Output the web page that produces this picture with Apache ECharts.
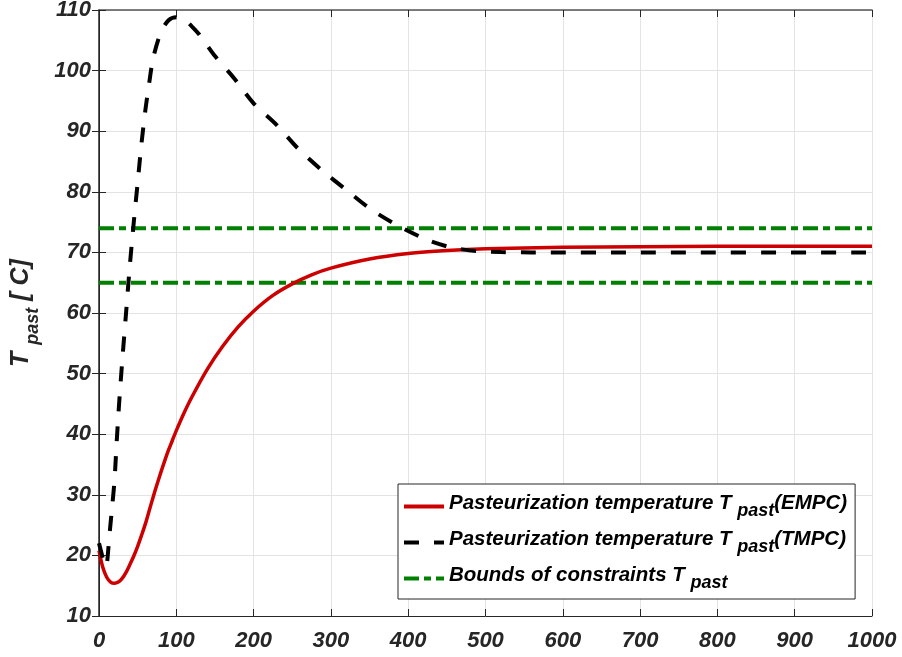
<!DOCTYPE html>
<html>
<head>
<meta charset="utf-8">
<script src="https://cdn.jsdelivr.net/npm/echarts@6/dist/echarts.min.js"></script>
<style>
  html, body { margin: 0; padding: 0; background: #fff; }
  #chart { width: 902px; height: 657px; }
</style>
</head>
<body>
<div id="chart"></div>
<script>
// Pasteurization temperature responses (time in s, temperature in °C)
const emTime = [0, 5, 10, 15, 20, 25, 30, 35, 40, 45, 50, 55, 60, 65, 70, 75, 80, 85, 90, 95, 100, 110, 120, 140, 160, 180, 200, 225, 250, 275, 300, 350, 400, 450, 500, 600, 700, 800, 1000];
const emTemp = [20.8, 18.0, 16.4, 15.6, 15.4, 15.6, 16.2, 17.2, 18.5, 19.9, 21.5, 23.3, 25.2, 27.4, 29.6, 31.7, 33.7, 35.6, 37.4, 39.0, 40.6, 43.5, 46.1, 50.7, 54.5, 57.7, 60.3, 62.9, 64.8, 66.3, 67.4, 68.9, 69.8, 70.3, 70.6, 70.85, 70.95, 71.0, 71.0];

const tmTime = [0, 4, 8, 10, 12, 14, 17, 20, 23, 26, 30, 35, 40, 45, 50, 55, 60, 65, 70, 80, 90, 100, 105, 110, 120, 130, 150, 175, 200, 230, 257, 288, 320, 352, 387, 424, 450, 465, 490, 520, 560, 700, 1000];
const tmTemp = [22.0, 20.0, 18.2, 18.5, 21.0, 24.0, 28.0, 32.3, 39.0, 45.0, 52.0, 60.0, 68.0, 75.0, 81.5, 88.0, 93.5, 98.0, 102.0, 106.3, 108.3, 108.8, 108.8, 108.5, 107.3, 105.9, 102.4, 98.7, 94.6, 91.0, 87.2, 83.6, 80.3, 77.1, 74.4, 72.1, 71.0, 70.6, 70.2, 70.05, 70.0, 70.0, 70.0];

// Constraint bounds
const boundsX = [0, 1000];
const boundUpper = 74;
const boundLower = 65;

// Axis ranges and ticks
const xTicks = [0, 100, 200, 300, 400, 500, 600, 700, 800, 900, 1000];
const yTicks = [10, 20, 30, 40, 50, 60, 70, 80, 90, 100, 110];

const FONT = '"Liberation Sans", Arial, Helvetica, sans-serif';
const AX = '#262626';

const pairs = (xs, ys) => xs.map((x, i) => [x, ys[i]]);
const boundsData = [
  [boundsX[0], boundUpper], [boundsX[1], boundUpper],
  [boundsX[1], '-'],
  [boundsX[0], boundLower], [boundsX[1], boundLower]
];

const tickLabel = {
  fontFamily: FONT, fontSize: 22, fontWeight: 'bold', fontStyle: 'italic', color: AX,
  formatter: (v) => String(v)
};

const chart = echarts.init(document.getElementById('chart'), null, { renderer: 'canvas' });

const legendRich = {
  a: { fontFamily: FONT, fontSize: 20.5, fontWeight: 'bold', fontStyle: 'italic', color: '#000', padding: [0, 0, 7, 0] },
  s: { fontFamily: FONT, fontSize: 18, fontWeight: 'bold', fontStyle: 'italic', color: '#000', padding: [9, 0, 0, 0] }
};

const legendNames = {
  'EMPC': '{a|Pasteurization temperature T }{s|past}{a|(EMPC)}',
  'TMPC': '{a|Pasteurization temperature T }{s|past}{a|(TMPC)}',
  'Bounds': '{a|Bounds of constraints T }{s|past}'
};

chart.setOption({
  animation: false,
  backgroundColor: '#fff',
  grid: { left: 99, right: 30, top: 10, bottom: 41, outerBoundsMode: 'none', containLabel: false },
  xAxis: [
    {
      type: 'value', min: xTicks[0], max: xTicks[xTicks.length - 1], interval: 100,
      axisLine: { lineStyle: { color: AX, width: 1 } },
      axisTick: { inside: true, length: 7, lineStyle: { color: AX } },
      axisLabel: Object.assign({ margin: 14 }, tickLabel),
      splitLine: { show: true, lineStyle: { color: '#e3e3e3', width: 1 } }
    },
    {
      type: 'value', position: 'top', min: xTicks[0], max: xTicks[xTicks.length - 1], interval: 100,
      axisLine: { show: true, lineStyle: { color: '#555', width: 1.5 } },
      axisTick: { show: true, inside: true, length: 7, lineStyle: { color: AX } },
      axisLabel: { show: false },
      splitLine: { show: false }
    }
  ],
  yAxis: [
    {
      type: 'value', min: yTicks[0], max: yTicks[yTicks.length - 1], interval: 10,
      axisLine: { show: true, lineStyle: { color: AX, width: 1 } },
      axisTick: { show: true, inside: true, length: 7, lineStyle: { color: AX } },
      axisLabel: Object.assign({ margin: 8 }, tickLabel),
      splitLine: { show: true, lineStyle: { color: '#e3e3e3', width: 1 } },
      name: '{t|T }{p|past}{t| [ C]}',
      nameLocation: 'middle',
      nameRotate: 90,
      nameGap: 55,
      nameTextStyle: {
        rich: {
          t: { fontFamily: FONT, fontSize: 25, fontWeight: 'bold', fontStyle: 'italic', color: AX, padding: [0, 0, 10, 0] },
          p: { fontFamily: FONT, fontSize: 18, fontWeight: 'bold', fontStyle: 'italic', color: AX, padding: [14, 0, 0, 0] }
        }
      }
    },
    {
      type: 'value', position: 'right', min: yTicks[0], max: yTicks[yTicks.length - 1], interval: 10,
      axisLine: { show: true, lineStyle: { color: AX, width: 1.5 } },
      axisTick: { show: true, inside: true, length: 7, lineStyle: { color: AX } },
      axisLabel: { show: false },
      splitLine: { show: false }
    }
  ],
  legend: {
    orient: 'vertical',
    left: 398, top: 484,
    padding: [9, 8, 7, 4],
    itemWidth: 40, itemHeight: 10, itemGap: 9,
    backgroundColor: '#fff',
    borderColor: AX, borderWidth: 1, borderRadius: 0,
    data: ['EMPC', 'TMPC', 'Bounds'],
    formatter: (n) => legendNames[n],
    itemStyle: { opacity: 0 },
    lineStyle: { width: 4 },
    textStyle: { rich: legendRich, padding: [0, 0, 0, 0] }
  },
  series: [
    {
      name: 'Bounds', type: 'line', data: boundsData, showSymbol: false, symbol: 'none',
      connectNulls: false, z: 3,
      lineStyle: { color: '#008000', width: 4, type: [15, 5, 7, 5] },
      itemStyle: { color: '#008000' }
    },
    {
      name: 'EMPC', type: 'line', data: pairs(emTime, emTemp), symbol: 'none',
      smooth: 0.3, z: 4,
      lineStyle: { color: '#cc0000', width: 3.5 },
      itemStyle: { color: '#cc0000' }
    },
    {
      name: 'TMPC', type: 'line', data: pairs(tmTime, tmTemp), symbol: 'none',
      smooth: 0.3, z: 5,
      lineStyle: { color: '#000', width: 4, type: [15, 15] },
      itemStyle: { color: '#000' }
    }
  ]
});
</script>
</body>
</html>
